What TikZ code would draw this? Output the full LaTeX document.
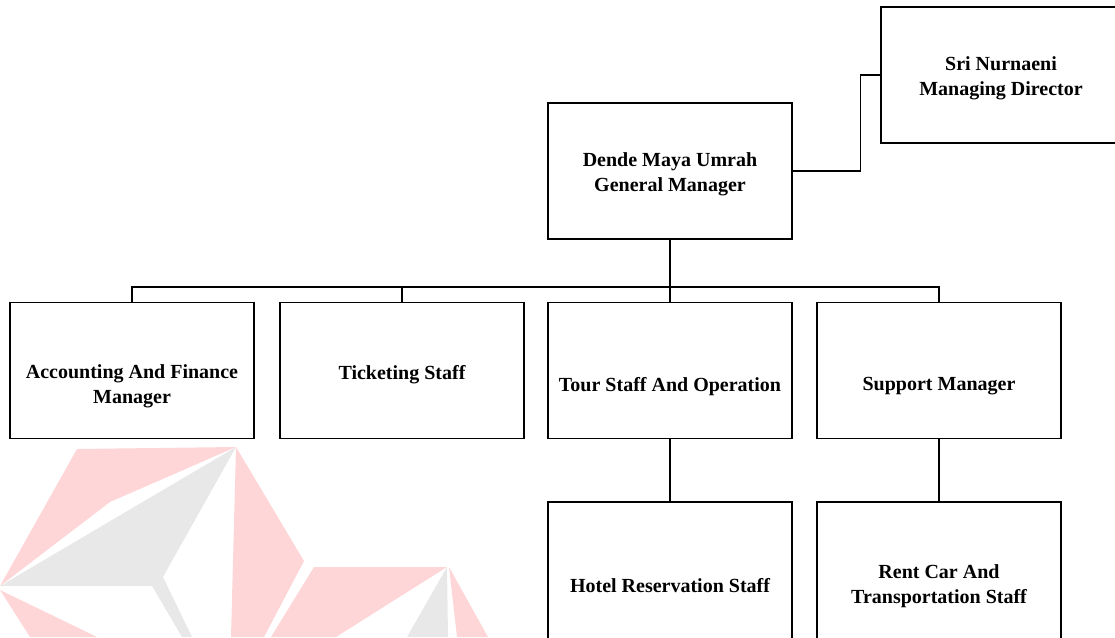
\documentclass[tikz,border=0pt]{standalone}
\usepackage{fontspec}
\setmainfont{Liberation Serif}
\definecolor{wmpink}{HTML}{FFD6D8}
\definecolor{wmgray}{HTML}{E8E8E8}

\begin{document}
\begin{tikzpicture}[x=1pt,y=-1pt,line width=1.2pt,
   orgbox/.style={draw,minimum width=244pt,minimum height=136pt,inner sep=0pt},
   orgtext/.style={align=center,inner sep=0pt,font=\fontsize{20}{25}\selectfont\bfseries}]
   \useasboundingbox (0,0) rectangle (1115,637);

   % watermark
   \fill[wmpink] (77,449) -- (236,447) -- (110,502) -- (0,586) -- cycle;
   \fill[wmgray] (0,586) -- (236,447) -- (163,577) -- (192,637) -- (182,637) -- (152,586) -- cycle;
   \fill[wmpink] (236,447) -- (304,561) -- (264,637) -- (231,637) -- cycle;
   \fill[wmpink] (0,590) -- (97,637) -- (30,637) -- cycle;
   \fill[wmpink] (314,567) -- (447,567) -- (336,637) -- (271,637) -- cycle;
   \fill[wmgray] (447,567) -- (448,637) -- (407,637) -- cycle;
   \fill[wmpink] (449,567) -- (488,637) -- (457,637) -- cycle;

   % boxes
   \node[orgbox] (md) at (1003,75) {};
   \node[orgbox] (gm) at (670,171) {};
   \node[orgbox] (acc) at (132,370.5) {};
   \node[orgbox] (tick) at (402,370.5) {};
   \node[orgbox] (tour) at (670,370.5) {};
   \node[orgbox] (supp) at (939,370.5) {};
   \node[orgbox,minimum height=170pt] (hotel) at (670,587) {};
   \node[orgbox,minimum height=170pt] (rent) at (939,587) {};

   % texts
   \node[orgtext] (mdtext) at (1001,78.5) {Sri Nurnaeni\\Managing Director};
   \node[orgtext] (gmtext) at (670,174.5) {Dende Maya Umrah\\General Manager};
   \node[orgtext] (acctext) at (132,386.5) {Accounting And Finance\\Manager};
   \node[orgtext] (ticktext) at (402,374.5) {Ticketing Staff};
   \node[orgtext] (tourtext) at (670,386.5) {Tour Staff And Operation};
   \node[orgtext] (supptext) at (939,386.5) {Support Manager};
   \node[orgtext] (hoteltext) at (670,585.5) {Hotel Reservation Staff};
   \node[orgtext] (renttext) at (939,586.5) {Rent Car And\\Transportation Staff};

   % lines
   \coordinate (bus) at (670,287);
   \draw (gm.east) -- ++(68,0) |- (md.west);
   \draw (gm.south) -- (bus);
   \foreach \n in {acc,tick,tour,supp}
      \draw (bus) -| (\n.north);
   \draw (tour.south) -- (hotel.north);
   \draw (supp.south) -- (rent.north);

\end{tikzpicture}
\end{document}
